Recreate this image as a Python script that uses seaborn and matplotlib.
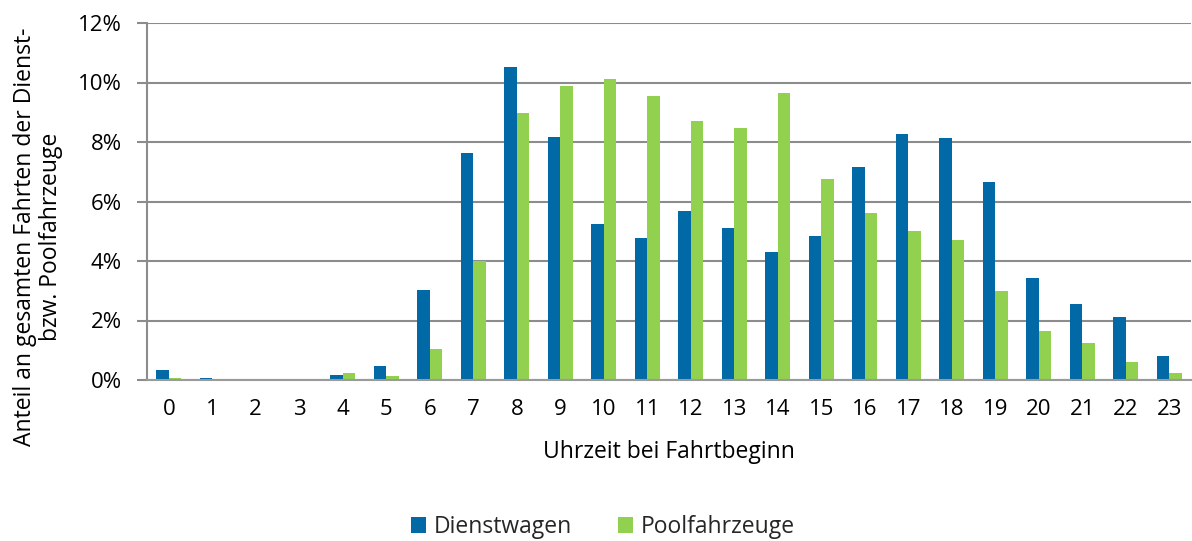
import matplotlib
matplotlib.use("Agg")
import matplotlib.pyplot as plt
import seaborn as sns
import pandas as pd
import numpy as np

hours = [str(h) for h in range(24)]
dienstwagen = [0.35, 0.07, 0.02, 0.02, 0.16, 0.47, 3.02, 7.64, 10.53, 8.16, 5.23, 4.78,
               5.69, 5.10, 4.30, 4.84, 7.17, 8.26, 8.15, 6.67, 3.44, 2.55, 2.12, 0.81]
poolfahrzeuge = [0.07, 0.01, 0.01, 0.0, 0.23, 0.15, 1.03, 4.00, 8.96, 9.88, 10.12, 9.56,
                 8.72, 8.48, 9.64, 6.76, 5.62, 5.00, 4.70, 2.98, 1.64, 1.23, 0.62, 0.24]
series_names = ["Dienstwagen", "Poolfahrzeuge"]
y_ticks = [0, 2, 4, 6, 8, 10, 12]

df = pd.DataFrame({
    "Stunde": hours * 2,
    "Anteil": dienstwagen + poolfahrzeuge,
    "Serie": [series_names[0]] * 24 + [series_names[1]] * 24,
})

sns.set_theme(style="white")
plt.rcParams["font.family"] = ["Open Sans", "DejaVu Sans"]

fig = plt.figure(figsize=(11.92, 5.41), dpi=100)
ax = fig.add_axes([147 / 1192, 1 - 380 / 541, (1191 - 147) / 1192, (380 - 23) / 541])

palette = {"Dienstwagen": "#0069a6", "Poolfahrzeuge": "#92d050"}
sns.barplot(data=df, x="Stunde", y="Anteil", hue="Serie", order=hours,
            hue_order=series_names, palette=palette, width=0.58, gap=0,
            saturation=1, linewidth=0, ax=ax, legend=True, zorder=3)

ax.set_xlim(-0.5, 23.5)
ax.set_ylim(0, 12)
ax.set_yticks(y_ticks)
ax.set_yticklabels([f"{v}%" for v in y_ticks])
ax.yaxis.grid(True, color="#8c8c8c", linewidth=1.5, zorder=0)
ax.set_axisbelow(True)

ax.set_xticks(range(24))
ax.set_xticklabels(hours)
ax.set_xticks(np.arange(-0.5, 23.0, 1.0), minor=True)
ax.tick_params(axis="x", which="major", length=0, pad=14, labelsize=16, colors="#000000")
ax.tick_params(axis="x", which="minor", length=7, width=1.5, color="#8c8c8c", direction="out")
ax.tick_params(axis="y", which="major", length=7, width=1.5, color="#8c8c8c", direction="out",
               pad=11, labelsize=16, labelcolor="#000000", left=True)

for side in ["top", "right"]:
    ax.spines[side].set_visible(False)
ax.spines["left"].set_color("#8c8c8c")
ax.spines["left"].set_linewidth(1.5)
ax.spines["bottom"].set_color("#9a9a9a")
ax.spines["bottom"].set_linewidth(1.5)
ax.spines["bottom"].set_zorder(4)

ax.set_xlabel("Uhrzeit bei Fahrtbeginn", fontsize=16.5, labelpad=14, color="#000000")
ax.set_ylabel("")
fig.text(38 / 1192, 1 - 237 / 541, "Anteil an gesamten Fahrten der Dienst-\nbzw. Poolfahrzeuge",
         rotation=90, ha="center", va="center", multialignment="center",
         fontsize=16.5, color="#000000", linespacing=1.1)

ax.legend(loc="center", bbox_to_anchor=((603 - 147) / 1044, -(527 - 380) / 357), ncol=2,
          frameon=False, fontsize=16.5, handlelength=0.65, handleheight=0.65,
          handletextpad=0.35, columnspacing=2.0)

fig.savefig("out.png", dpi=100)
